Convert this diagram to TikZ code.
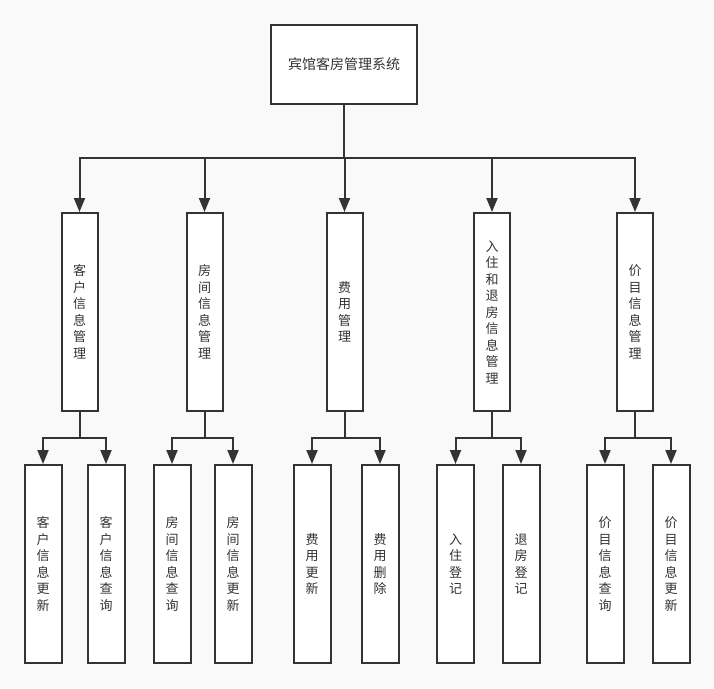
\documentclass[tikz,border=0pt]{standalone}
\usepackage{fontspec}
\setmainfont{Noto Sans CJK SC}
\usetikzlibrary{arrows.meta}
\definecolor{ink}{HTML}{333333}
\definecolor{paper}{HTML}{F9F9F9}
\begin{document}
\begin{tikzpicture}[x=1pt,y=-1pt,
  box/.style={draw=ink,line width=2pt,fill=white,inner sep=0pt,align=center,
    text=ink,font=\fontsize{13}{16.5}\selectfont},
  modbox/.style={box,minimum width=36pt,minimum height=198pt},
  leafbox/.style={box,minimum width=37pt,minimum height=198pt},
  link/.style={draw=ink,line width=2pt,-{Triangle[length=14pt,width=11pt]}},
  plain/.style={draw=ink,line width=2pt}]
\useasboundingbox (0,0) rectangle (714,688);
\fill[paper] (0,0) rectangle (714,688);

% root
\node[box,minimum width=146pt,minimum height=79pt,font=\fontsize{14}{16}\selectfont] (root) at (344,64.5) {宾馆客房管理系统};

% second level modules
\node[modbox] (m1) at (79.5,312) {客\\户\\信\\息\\管\\理};
\node[modbox] (m2) at (204.5,312) {房\\间\\信\\息\\管\\理};
\node[modbox] (m3) at (344.5,312) {费\\用\\管\\理};
\node[modbox] (m4) at (492,312) {入\\住\\和\\退\\房\\信\\息\\管\\理};
\node[modbox] (m5) at (635,312) {价\\目\\信\\息\\管\\理};

% leaf functions
\node[leafbox] (l1) at (43,564) {客\\户\\信\\息\\更\\新};
\node[leafbox] (l2) at (106,564) {客\\户\\信\\息\\查\\询};
\node[leafbox] (l3) at (172,564) {房\\间\\信\\息\\查\\询};
\node[leafbox] (l4) at (233,564) {房\\间\\信\\息\\更\\新};
\node[leafbox] (l5) at (312,564) {费\\用\\更\\新};
\node[leafbox] (l6) at (380,564) {费\\用\\删\\除};
\node[leafbox] (l7) at (455.5,564) {入\\住\\登\\记};
\node[leafbox] (l8) at (521,564) {退\\房\\登\\记};
\node[leafbox] (l9) at (605,564) {价\\目\\信\\息\\查\\询};
\node[leafbox] (l10) at (671,564) {价\\目\\信\\息\\更\\新};

% bus junctions
\coordinate (b0) at (344,158);
\coordinate (b1) at (79.5,437.5);
\coordinate (b2) at (204.5,437.5);
\coordinate (b3) at (344.5,437.5);
\coordinate (b4) at (492,437.5);
\coordinate (b5) at (635,437.5);

% root to modules
\draw[plain] (root.south) -- (b0);
\foreach \m in {m1,m2,m3,m4,m5}
  \draw[link] (b0) -| (\m.north);

% modules to leaves
\foreach \m/\a/\b in {1/l1/l2,2/l3/l4,3/l5/l6,4/l7/l8,5/l9/l10}{
  \draw[plain] (m\m.south) -- (b\m);
  \draw[link] (b\m) -| (\a.north);
  \draw[link] (b\m) -| (\b.north);
}
\end{tikzpicture}
\end{document}
